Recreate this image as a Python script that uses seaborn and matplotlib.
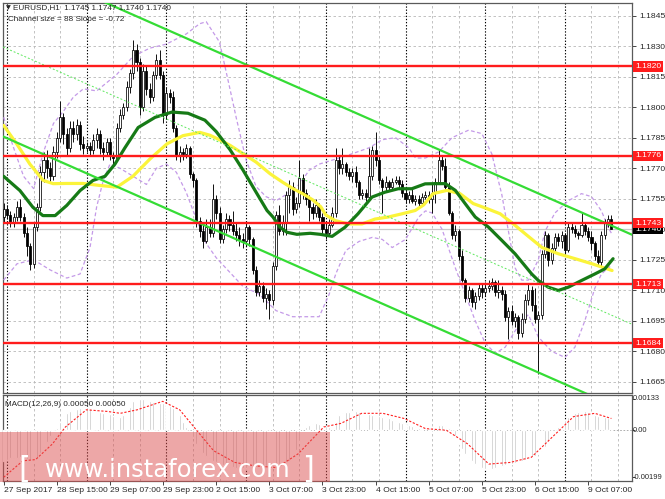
import numpy as np
import matplotlib
matplotlib.use('Agg')
import matplotlib.pyplot as plt
from matplotlib.patches import Rectangle
import seaborn as sns

# prices are kept in pips above 1.1600
BASE = 1.16
PIP = 0.0001

open_pips = [
    146, 150, 147, 143, 146, 151, 146, 138, 132, 123,
    141, 151, 168, 174, 170, 166, 178, 185, 195, 187,
    180, 190, 187, 191, 182, 180, 181, 179, 184, 187,
    180, 178, 183, 176, 175, 190, 196, 200, 210, 217,
    228, 222, 200, 218, 209, 205, 216, 223, 216, 196,
    207, 205, 190, 176, 178, 177, 180, 167, 164, 144,
    139, 134, 141, 138, 155, 148, 135, 140, 145, 142,
    139, 137, 135, 134, 141, 135, 120, 109, 112, 106,
    108, 105, 122, 147, 139, 143, 157, 161, 150, 153,
    165, 158, 155, 151, 148, 152, 146, 140, 138, 142,
    148, 174, 170, 172, 168, 166, 168, 163, 157, 158,
    156, 166, 179, 174, 164, 161, 163, 161, 163, 164,
    162, 158, 155, 157, 154, 155, 153, 156, 157, 155,
    158, 163, 174, 171, 161, 148, 137, 139, 127, 115,
    106, 110, 104, 107, 111, 109, 111, 112, 114, 109,
    110, 108, 97, 100, 95, 97, 89, 96, 105, 110,
    103, 96, 98, 128, 137, 125, 131, 136, 134, 137,
    130, 141, 140, 138, 137, 142, 139, 136, 133, 127,
    124, 137, 143, 145]
high_pips = [
    153, 152, 149, 148, 154, 155, 148, 141, 133, 143,
    153, 171, 178, 179, 173, 181, 188, 203, 197, 190,
    193, 193, 194, 193, 186, 183, 183, 187, 190, 189,
    183, 185, 185, 178, 192, 199, 202, 213, 219, 233,
    231, 224, 221, 220, 212, 218, 226, 228, 218, 210,
    209, 208, 191, 181, 180, 182, 181, 168, 165, 146,
    143, 145, 145, 162, 157, 151, 142, 148, 147, 149,
    143, 141, 138, 143, 142, 136, 122, 115, 114, 111,
    110, 124, 149, 152, 147, 159, 164, 163, 156, 174,
    167, 160, 157, 153, 155, 153, 148, 143, 145, 151,
    180, 176, 180, 173, 170, 170, 171, 164, 160, 160,
    180, 181, 188, 176, 165, 166, 164, 165, 166, 166,
    164, 160, 159, 160, 157, 157, 158, 159, 159, 162,
    165, 179, 176, 175, 163, 149, 142, 140, 130, 116,
    112, 111, 109, 113, 113, 114, 115, 116, 115, 115,
    112, 110, 102, 103, 99, 98, 99, 108, 113, 112,
    111, 100, 130, 139, 138, 133, 138, 138, 139, 138,
    143, 143, 142, 139, 148, 143, 141, 139, 134, 130,
    139, 145, 147, 147]
low_pips = [
    143, 145, 141, 141, 144, 144, 136, 127, 120, 121,
    139, 149, 163, 165, 163, 164, 175, 183, 182, 176,
    178, 183, 184, 179, 177, 178, 176, 177, 180, 177,
    174, 176, 174, 172, 174, 188, 194, 198, 207, 214,
    218, 196, 198, 206, 202, 203, 214, 214, 192, 194,
    202, 188, 174, 173, 174, 175, 165, 161, 141, 136,
    131, 133, 136, 136, 145, 133, 133, 138, 139, 137,
    134, 132, 131, 132, 132, 118, 107, 107, 104, 101,
    96, 103, 120, 137, 137, 137, 148, 147, 148, 151,
    155, 152, 144, 145, 146, 144, 137, 135, 137, 141,
    146, 167, 167, 166, 164, 163, 161, 155, 155, 154,
    155, 164, 171, 162, 148, 159, 159, 160, 162, 160,
    156, 153, 153, 153, 152, 151, 152, 155, 153, 148,
    153, 162, 169, 160, 147, 135, 134, 125, 114, 104,
    104, 102, 101, 105, 106, 107, 109, 110, 107, 106,
    105, 95, 86, 93, 92, 86, 87, 94, 103, 100,
    94, 69, 96, 126, 122, 123, 129, 132, 131, 127,
    129, 138, 136, 135, 136, 137, 134, 130, 125, 122,
    122, 135, 141, 140]
close_pips = [
    150, 147, 143, 146, 151, 146, 138, 132, 123, 141,
    151, 168, 174, 170, 166, 178, 185, 195, 187, 180,
    190, 187, 191, 182, 180, 181, 179, 184, 187, 180,
    178, 183, 176, 175, 190, 196, 200, 210, 217, 228,
    222, 200, 218, 209, 205, 216, 223, 216, 196, 207,
    205, 190, 176, 178, 177, 180, 167, 164, 144, 139,
    134, 141, 138, 155, 148, 135, 140, 145, 142, 139,
    137, 135, 134, 141, 135, 120, 109, 112, 106, 108,
    105, 122, 147, 139, 143, 157, 161, 150, 153, 165,
    158, 155, 151, 148, 152, 146, 140, 138, 142, 148,
    174, 170, 172, 168, 166, 168, 163, 157, 158, 156,
    166, 179, 174, 164, 161, 163, 161, 163, 164, 162,
    158, 155, 157, 154, 155, 153, 156, 157, 155, 158,
    163, 174, 171, 161, 148, 137, 139, 127, 115, 106,
    110, 104, 107, 111, 109, 111, 112, 114, 109, 110,
    108, 97, 100, 95, 97, 89, 96, 105, 110, 103,
    96, 98, 128, 137, 125, 131, 136, 134, 137, 130,
    141, 140, 138, 137, 142, 139, 136, 133, 127, 124,
    137, 143, 145, 140]

# moving averages (bar position, pips)
yellow_idx = [0, 3.9, 7.9, 11.9, 14.9, 19, 23.9, 29, 34.1, 38.9,
              44.1, 49.2, 54, 59.1, 62.1, 65, 68.2, 72.1, 76, 80.2,
              84.1, 87.1, 90, 93, 95.5, 97, 99.8, 103.7, 107.9, 111.8,
              115.8, 120, 123.9, 126.5, 129.3, 133.5, 137.4, 141.4, 145.6, 149.5,
              153.4, 157.6, 162.1, 166.9, 172.1, 177.2, 183.2]
yellow_pips = [191, 182, 172, 164, 162.4, 162.5, 162.5, 161.5, 160.7, 166,
               174.6, 182, 186, 187.6, 186.2, 184, 181.2, 177.1, 173, 167.3,
               163, 160, 157.5, 154.5, 151, 147, 144.3, 142.6, 142.6, 145,
               146, 147.6, 149.2, 152, 157.5, 159.1, 157.5, 152.6, 150.1, 147.6,
               142.7, 137, 131, 128, 125.5, 123, 119.7]
green_idx = [0, 4.9, 8.8, 11.8, 15.5, 19, 23, 26.9, 30.5, 33.5,
             36.5, 40.5, 45.6, 50.7, 55.5, 60.6, 64, 68.2, 72.1, 76.3,
             79.3, 81.1, 83.2, 85.3, 88.3, 92.3, 95.3, 98.9, 102.8, 106.7,
             110.9, 114.8, 118.8, 122.9, 126.9, 130, 133, 136, 139, 142,
             146, 150, 154, 159, 161, 164, 167, 170, 174, 178,
             181, 183.5]
green_pips = [166, 159, 150.8, 146.7, 146.7, 151.7, 159, 164, 166, 172,
              180, 190, 195, 197.6, 197, 193.6, 188, 179, 169, 157.4,
              149.2, 146, 141, 138.5, 137.5, 138, 137.5, 136.5, 141, 147.6,
              155.8, 158.2, 159.9, 159.9, 162.3, 162.4, 162.4, 159.1, 152.5, 146,
              141, 134.5, 127.9, 118, 114.8, 111.5, 109.9, 111.5, 114.8, 118,
              120.5, 125.5]

# bollinger envelope
bb_up_idx = [0, 3, 6, 9, 12, 15, 18, 21, 24, 28,
             34, 39, 44, 49, 55, 59, 61, 65, 68, 70,
             73, 76, 79, 82, 85, 89, 92, 95, 99, 103,
             110, 114, 118, 122, 124, 127, 131, 135, 140, 144,
             147, 150, 152, 154, 156, 158, 161, 163, 166, 170,
             174, 177, 180, 182, 183]
bb_up_pips = [195, 180, 166, 160, 178, 192, 198, 205, 209, 208,
              216, 225, 229, 231, 236, 241, 242, 232, 210, 195,
              174, 161, 156, 154, 157, 162, 169, 172, 174, 176,
              180, 184, 185, 180, 175, 175, 178, 185, 188.7, 187,
              177, 157, 139, 121, 115, 115, 125, 139, 148, 154,
              157.5, 156, 149, 141, 138]
bb_lo_idx = [0, 4, 9, 14, 19, 23, 26, 28, 30, 32,
             35, 39, 43, 46, 49, 52, 55, 58, 61, 64,
             68, 72, 77, 82, 87, 92, 95, 98, 100, 103,
             107, 111, 114, 117, 121, 125, 127, 129, 132, 136,
             139, 142, 145, 148, 151, 154, 156, 158, 161, 165,
             169, 172, 175, 178, 180, 182, 183]
bb_lo_pips = [115, 123, 125, 120, 116, 118, 131, 151, 164, 172,
              170, 166, 162, 170, 172, 168, 158, 145, 133, 126,
              119, 112, 108, 100, 97, 97, 97, 108, 118, 129.5,
              134, 136, 135, 131, 135, 146, 149, 148, 140, 121,
              108, 95, 84, 79, 82, 90, 95, 98, 87, 80,
              77, 82, 95, 111, 118, 121, 122]

# regression channel: upper line end points, size 88 pips
channel_idx = [-0.2, 189.2]
channel_top_pips = [273.6, 137.3]
channel_size = 88

levels = [1.1820, 1.1776, 1.1743, 1.1713, 1.1684]
last_price = 1.1740
price_ticks = [1.1665, 1.1680, 1.1695, 1.1710, 1.1725, 1.1740, 1.1755, 1.1770,
               1.1785, 1.1800, 1.1815, 1.1830, 1.1845]

# MACD histogram, units of 1e-5
macd_hist = [
    -130, -125, -120, -118, -116, -115, -118, -122, -128, -132, -120, -98, -72, -48, -25, -6,
    10, 35, 60, 72, 80, 86, 92, 96, 99, 100, 96, 90, 84, 78, 74,
    72, 68, 62, 58, 58, 66, 80, 100, 125, 137, 135, 132, 128, 124, 122,
    120, 118, 115, 110, 103, 95, 87, 65, 35, 14, 0, -30, -60, -80, -95,
    -108, -120, -130, -137, -143, -148, -152, -155, -158, -159, -160, -160, -160, -159, -159,
    -158, -157, -155, -153, -150, -147, -144, -142, -139, -136, -130, -115, -85, -45, 0,
    12, 22, 28, 29, 27, 22, 18, 15, 14, 35, 65, 72, 76, 79, 80,
    80, 78, 75, 72, 70, 67, 64, 61, 58, 55, 50, 45, 40, 35, 30,
    26, 22, 18, 14, 10, 7, 7, 9, 14, 18, 21, 22, 18, 10, 0,
    -25, -58, -80, -100, -115, -130, -145, -155, -160, -164, -166, -165, -162, -158, -153,
    -149, -146, -144, -140, -136, -132, -127, -121, -115, -110, -100, -90, -72, -50, -14,
    0, 15, 30, 45, 58, 65, 72, 77, 80, 80, 76, 72, 66, 60, 55, 57, 54, 50]
signal_idx = [0, 5.8, 9.6, 14.7, 18.6, 24.9, 31.3, 35.1, 40.2, 47.9,
              53, 58.1, 63.2, 69.6, 75.9, 82.3, 88.7, 96.4, 101.5, 107.8,
              114.2, 120.6, 127, 133.3, 139.7, 146.1, 152.5, 158.9, 165.2, 171.6,
              178, 183]
signal_vals = [-200, -130, -125, -58, 14, 87, 80, 72, 87, 123,
               87, 0, -87, -137, -152, -159, -100, 14, 29, 72,
               72, 50, 7, 0, -58, -144, -137, -115, -29, 58,
               72, 50]
macd_ticks = [0.00133, 0.0, -0.00199]
macd_tick_labels = ['0.00133', '0.00', '-0.00199']

time_ticks = [0, 16, 32, 48, 64, 80, 96, 112, 128, 144, 160, 176]
time_labels = ['27 Sep 2017', '28 Sep 15:00', '29 Sep 07:00', '29 Sep 23:00',
               '2 Oct 15:00', '3 Oct 07:00', '3 Oct 23:00', '4 Oct 15:00',
               '5 Oct 07:00', '5 Oct 23:00', '6 Oct 15:00', '9 Oct 07:00']


def to_price(p):
    return BASE + np.asarray(p, dtype=float) * PIP


sns.set_style('white')
plt.rcParams['font.family'] = ['Liberation Sans', 'DejaVu Sans']

W, H = 665, 499
fig = plt.figure(figsize=(W / 100, H / 100), dpi=100)


def box(x0, y0, x1, y1):
    return [x0 / W, 1 - y1 / H, (x1 - x0) / W, (y1 - y0) / H]


ax = fig.add_axes(box(3, 3, 632, 393))
ax2 = fig.add_axes(box(3, 395, 632, 481))

n = len(close_pips)
idx = np.arange(n)
o, hi, lo, c = (to_price(v) for v in (open_pips, high_pips, low_pips, close_pips))

# grid and day separators
for a in (ax, ax2):
    for g in range(1, 190, 8):
        if (g - 1) % 24 == 0:
            a.axvline(g, color='black', lw=0.8, ls=(0, (1.2, 1.6)), zorder=1)
        else:
            a.axvline(g, color='#b8b8b8', lw=0.6, ls=(0, (3, 3)), zorder=1)
for t in price_ticks:
    ax.axhline(t, color='#b8b8b8', lw=0.6, ls=(0, (3, 3)), zorder=1)

# candles
up = c >= o
ax.vlines(idx, lo, hi, color='black', lw=0.65, zorder=4)
ax.bar(idx[up], (c - o)[up], bottom=o[up], width=0.62, color='white',
       edgecolor='black', linewidth=0.55, zorder=5)
ax.bar(idx[~up], (c - o)[~up], bottom=o[~up], width=0.62, color='black',
       edgecolor='black', linewidth=0.55, zorder=5)

# indicators
sns.lineplot(x=bb_up_idx, y=to_price(bb_up_pips), ax=ax, color='#c49ae8', lw=0.9,
             linestyle=(0, (3, 2)), estimator=None, sort=False, zorder=3)
sns.lineplot(x=bb_lo_idx, y=to_price(bb_lo_pips), ax=ax, color='#c49ae8', lw=0.9,
             linestyle=(0, (3, 2)), estimator=None, sort=False, zorder=3)
sns.lineplot(x=yellow_idx, y=to_price(yellow_pips), ax=ax, color='#fbf43a', lw=2.3,
             estimator=None, sort=False, zorder=6)
sns.lineplot(x=green_idx, y=to_price(green_pips), ax=ax, color='#167a16', lw=2.3,
             estimator=None, sort=False, zorder=6)

top = to_price(channel_top_pips)
bottom = top - channel_size * PIP
mid = top - channel_size / 2 * PIP
sns.lineplot(x=channel_idx, y=top, ax=ax, color='#35dc35', lw=1.6, estimator=None, zorder=7)
sns.lineplot(x=channel_idx, y=bottom, ax=ax, color='#35dc35', lw=1.6, estimator=None, zorder=7)
sns.lineplot(x=channel_idx, y=mid, ax=ax, color='#5ee85e', lw=0.7,
             linestyle=(0, (2, 2)), estimator=None, zorder=7)

# horizontal levels
ax.axhline(last_price, color='#c8c8c8', lw=0.9, zorder=2)
ytr = ax.get_yaxis_transform()
ax.text(1.0048, last_price, f'{last_price:.4f}', transform=ytr, fontsize=6.1,
        color='white', va='center', ha='left', clip_on=False, zorder=9,
        bbox=dict(facecolor='black', edgecolor='none', pad=1.2))
for lv in levels:
    ax.axhline(lv, color='#ff1c1c', lw=1.7, zorder=8)
    ax.text(1.0048, lv, f'{lv:.4f}', transform=ytr, fontsize=6.1, color='white',
            va='center', ha='left', clip_on=False, zorder=10,
            bbox=dict(facecolor='#ff1c1c', edgecolor='none', pad=1.2))

ax.set_xlim(-0.2, 189.2)
ax.set_ylim(to_price(59.5), to_price(251.2))
ax.yaxis.tick_right()
ax.set_yticks(price_ticks)
ax.set_yticklabels([f'{v:.4f}' for v in price_ticks])
ax.set_xticks([])
ax.tick_params(axis='y', length=3, width=0.6, labelsize=6.1, pad=2, right=True)
ax.set_xlabel('')
ax.set_ylabel('')

# MACD panel
ax2.bar(idx, np.asarray(macd_hist) * 1e-5, width=0.5, color='#c0c0c0', zorder=3)
ax2.axhline(0, color='#a0a0a0', lw=0.6, ls=(0, (2, 2)), zorder=2)
sns.lineplot(x=signal_idx, y=np.asarray(signal_vals) * 1e-5, ax=ax2, color='#ff2020',
             lw=0.8, linestyle=(0, (2, 1.5)), estimator=None, sort=False, zorder=4)
ax2.set_xlim(-0.2, 189.2)
ax2.set_ylim(-0.00216, 0.00150)
ax2.yaxis.tick_right()
ax2.set_yticks(macd_ticks)
ax2.set_yticklabels([])
ytr2 = ax2.get_yaxis_transform()
for v, s in zip(macd_ticks, macd_tick_labels):
    ax2.text(1.0016, v, s, transform=ytr2, fontsize=5.4, va='center', ha='left',
             clip_on=False)
ax2.set_xticks(time_ticks)
ax2.set_xticklabels(time_labels, ha='left')
ax2.tick_params(axis='x', length=3, width=0.6, labelsize=6.1, pad=1.5, bottom=True)
ax2.tick_params(axis='y', length=2, width=0.6, right=True)
ax2.set_xlabel('')
ax2.set_ylabel('')

for a in (ax, ax2):
    for s in a.spines.values():
        s.set_color('#5a5a5a')
        s.set_linewidth(0.9)

# captions
fig.text(6 / W, 1 - 8 / H, '\u25bc', fontsize=4.5, va='center', family=['DejaVu Sans'])
fig.text(13 / W, 1 - 8 / H, 'EURUSD,H1  1.1745 1.1747 1.1740 1.1740', fontsize=5.9, va='center')
fig.text(8 / W, 1 - 19.5 / H, 'Channel size = 88 Slope = -0.72', fontsize=5.9, va='center')
fig.text(5 / W, 1 - 404 / H, 'MACD(12,26,9) 0.00050 0.00050', fontsize=5.9, va='center')

# watermark
fig.add_artist(Rectangle((0, 1 - 482 / H), 330 / W, 50 / H, transform=fig.transFigure,
                         facecolor='#dc5050', alpha=0.5, edgecolor='none', zorder=20))
fig.text(18 / W, 1 - 478 / H, '[', fontsize=22, color='white', zorder=21,
         family=['DejaVu Sans'])
fig.text(45 / W, 1 - 477 / H, 'www.instaforex.com', fontsize=17.5, color='white',
         zorder=21, family=['DejaVu Sans'])
fig.text(302 / W, 1 - 478 / H, ']', fontsize=22, color='white', zorder=21,
         family=['DejaVu Sans'])

fig.savefig('out.png', dpi=100)
